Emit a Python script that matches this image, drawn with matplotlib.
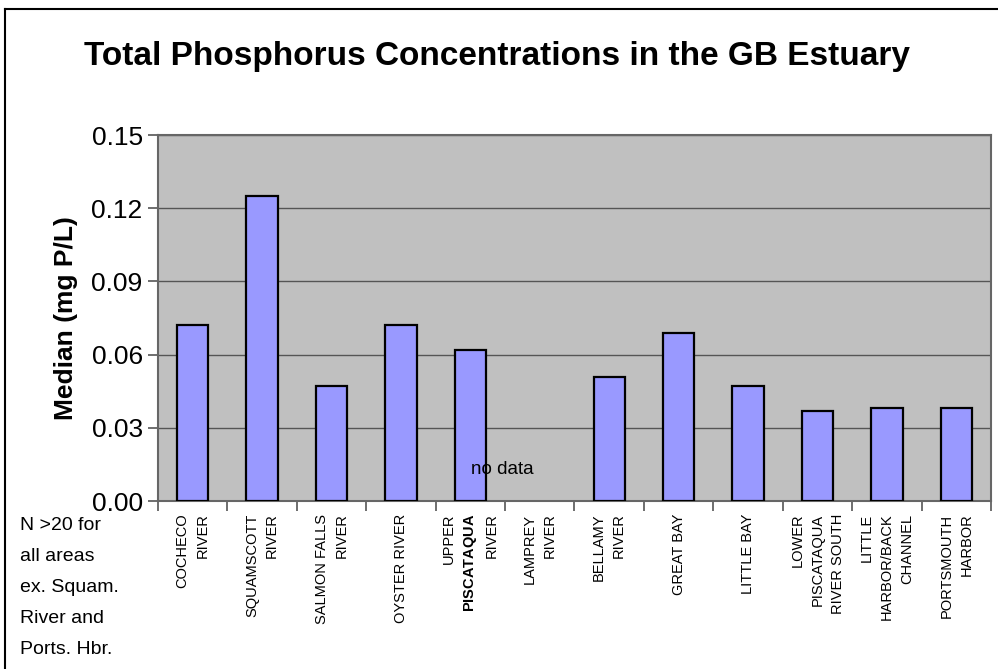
import numpy as np
import matplotlib
matplotlib.use("Agg")
import matplotlib.pyplot as plt
from matplotlib.lines import Line2D

plt.rcParams['font.family'] = ['Liberation Sans', 'DejaVu Sans']
plt.rcParams['mathtext.fontset'] = 'custom'
plt.rcParams['mathtext.bf'] = 'Liberation Sans:bold'
plt.rcParams['mathtext.rm'] = 'Liberation Sans'

# data (Lamprey River has no data)
areas = ['COCHECO\nRIVER', 'SQUAMSCOTT\nRIVER', 'SALMON FALLS\nRIVER',
         'OYSTER RIVER', 'UPPER\n$\\mathbf{PISCATAQUA}$\nRIVER', 'LAMPREY\nRIVER',
         'BELLAMY\nRIVER', 'GREAT BAY', 'LITTLE BAY',
         'LOWER\nPISCATAQUA\nRIVER SOUTH', 'LITTLE\nHARBOR/BACK\nCHANNEL',
         'PORTSMOUTH\nHARBOR']
median_tp = [0.072, 0.125, 0.047, 0.072, 0.062, np.nan,
             0.051, 0.069, 0.047, 0.037, 0.038, 0.038]
y_ticks = [0.00, 0.03, 0.06, 0.09, 0.12, 0.15]

fig = plt.figure(figsize=(9.98, 6.69), dpi=100)
ax = fig.add_axes([0.1583, 0.2511, 0.8347, 0.5471])
ax.set_facecolor('#C0C0C0')

x = np.arange(len(areas))
ax.bar(x, median_tp, width=0.45, color='#9999FF', edgecolor='black',
       linewidth=1.6, zorder=3)

ax.set_xlim(-0.5, len(areas) - 0.5)
ax.set_ylim(0, 0.15)
ax.set_yticks(y_ticks)
ax.set_yticklabels(['%.2f' % v for v in y_ticks], fontsize=19)
ax.yaxis.grid(True, color='#555555', linewidth=1.0, zorder=1)
ax.set_axisbelow(True)

ax.set_xticks(x)
ax.set_xticklabels(areas, rotation=90, fontsize=10.5, va='top', ha='center',
                   multialignment='right', linespacing=1.55)
ax.set_xticks(np.arange(-0.5, len(areas)), minor=True)
ax.tick_params(axis='x', which='major', length=0, pad=9)
ax.tick_params(axis='x', which='minor', length=7, width=1.2, color='#555555')
ax.tick_params(axis='y', length=7, width=1.2, color='#555555', pad=4)

for s in ax.spines.values():
    s.set_color('#666666')
    s.set_linewidth(1.5)

ax.set_ylabel('Median (mg P/L)', fontsize=19, fontweight='bold', labelpad=10)

ax.text(4.46, 0.0128, 'no data', fontsize=13.5, ha='center', va='center')

fig.text(0.498, 0.915, 'Total Phosphorus Concentrations in the GB Estuary',
         fontsize=24, fontweight='bold', ha='center', va='center')

fig.text(0.020, 0.227, 'N >20 for\nall areas\nex. Squam.\nRiver and\nPorts. Hbr.',
         fontsize=14, ha='left', va='top', linespacing=2.07)

# outer chart frame (runs off the right and bottom of the picture)
fig.add_artist(Line2D([0.0047, 0.0047], [0.0, 0.986], color='black', linewidth=1.5,
                      transform=fig.transFigure))
fig.add_artist(Line2D([0.0047, 1.0], [0.986, 0.986], color='black', linewidth=1.5,
                      transform=fig.transFigure))

fig.savefig('out.png', dpi=100)
